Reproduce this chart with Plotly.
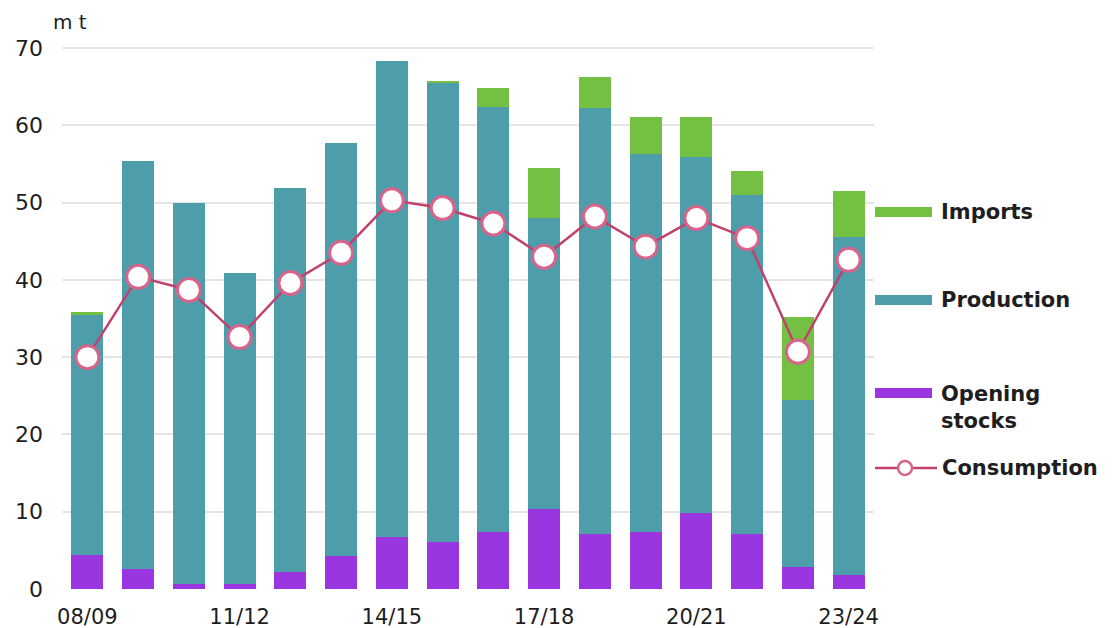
import plotly.graph_objects as go

# Marketing year labels
seasons = ["08/09", "09/10", "10/11", "11/12", "12/13", "13/14", "14/15", "15/16",
           "16/17", "17/18", "18/19", "19/20", "20/21", "21/22", "22/23", "23/24"]

# Supply components, million tonnes
opening_stocks = [4.4, 2.6, 0.6, 0.6, 2.2, 4.3, 6.7, 6.1, 7.4, 10.3, 7.1, 7.4, 9.8, 7.1, 2.9, 1.8]
production = [31.1, 52.8, 49.4, 40.3, 49.7, 53.4, 61.6, 59.5, 55.0, 37.7, 55.1, 48.9, 46.1, 43.9, 21.5, 43.7]
imports = [0.3, 0.0, 0.0, 0.0, 0.0, 0.0, 0.0, 0.2, 2.4, 6.5, 4.0, 4.8, 5.2, 3.1, 10.8, 6.0]

# Demand, million tonnes
consumption = [30.0, 40.4, 38.7, 32.6, 39.6, 43.5, 50.3, 49.3, 47.3, 43.0, 48.2, 44.3, 48.0, 45.4, 30.7, 42.6]

shown_ticks = ["08/09", "11/12", "14/15", "17/18", "20/21", "23/24"]
y_ticks = [0, 10, 20, 30, 40, 50, 60, 70]

C_STOCK = "#9a36e0"
C_PROD = "#4e9dab"
C_IMP = "#74c043"
C_LINE = "#c2406e"
C_MARK = "#d8648c"
FONT = "DejaVu Sans"
TXT = "#1e1e1e"

W, H = 1115, 628
ML, MR, MT, MB = 62, 241, 45, 39
PW, PH = W - ML - MR, H - MT - MB


def px(x):
    """page x pixel -> paper x"""
    return (x - ML) / PW


def py(y):
    """page y pixel -> paper y"""
    return (H - MB - y) / PH


fig = go.Figure()
fig.add_bar(x=seasons, y=opening_stocks, name="Opening stocks", marker_color=C_STOCK,
            marker_line_width=0)
fig.add_bar(x=seasons, y=production, name="Production", marker_color=C_PROD,
            marker_line_width=0)
fig.add_bar(x=seasons, y=imports, name="Imports", marker_color=C_IMP,
            marker_line_width=0)
fig.add_scatter(x=seasons, y=consumption, name="Consumption", mode="lines+markers",
                line=dict(color=C_LINE, width=2.5),
                marker=dict(size=23, color="white", line=dict(color=C_MARK, width=3)))

# Side legend drawn as swatches and labels
shapes = []
annotations = []
legend_font = dict(family=FONT, size=21, color=TXT, weight="bold")
for label, col, ypx in [("Imports", C_IMP, 212), ("Production", C_PROD, 300),
                        ("Opening stocks", C_STOCK, 393)]:
    shapes.append(dict(type="rect", xref="paper", yref="paper",
                       x0=px(875), x1=px(932), y0=py(ypx + 5), y1=py(ypx - 5),
                       fillcolor=col, line_width=0))
    two_line = label == "Opening stocks"
    text = label.replace(" ", "<br>") if two_line else label
    annotations.append(dict(xref="paper", yref="paper", x=px(939),
                            y=py(ypx - 13) if two_line else py(ypx),
                            yanchor="top" if two_line else "middle",
                            text=text, showarrow=False, xanchor="left", align="left",
                            font=legend_font))

shapes.append(dict(type="line", xref="paper", yref="paper",
                   x0=px(875), x1=px(937), y0=py(468), y1=py(468),
                   line=dict(color=C_LINE, width=2.5)))
shapes.append(dict(type="circle", xref="paper", yref="paper",
                   x0=px(898), x1=px(912), y0=py(475), y1=py(461),
                   fillcolor="white", line=dict(color=C_MARK, width=2.5)))
annotations.append(dict(xref="paper", yref="paper", x=px(940), y=py(468),
                        text="Consumption", showarrow=False, xanchor="left",
                        yanchor="middle", font=legend_font))

# Unit label
annotations.append(dict(xref="paper", yref="paper", x=px(51), y=py(22),
                        text="m t", showarrow=False, xanchor="left", yanchor="middle",
                        font=dict(family=FONT, size=20, color=TXT)))

fig.update_layout(
    width=W, height=H,
    margin=dict(l=ML, r=MR, t=MT, b=MB),
    paper_bgcolor="white", plot_bgcolor="white",
    barmode="stack", bargap=0.37,
    showlegend=False,
    shapes=shapes, annotations=annotations,
    font=dict(family=FONT, color=TXT),
)
fig.update_xaxes(type="category", range=[-0.5, len(seasons) - 0.5],
                 tickmode="array", tickvals=shown_ticks, ticktext=shown_ticks,
                 showgrid=False, showline=False, zeroline=False, ticks="", automargin=False,
                 tickfont=dict(family=FONT, size=21, color=TXT), ticklabelstandoff=13)
fig.update_yaxes(range=[0, 70.4], tickvals=y_ticks, showgrid=True, gridcolor="#e4e4e4",
                 gridwidth=1.5, zeroline=False, showline=False, ticks="", automargin=False,
                 tickfont=dict(family=FONT, size=22, color=TXT), ticklabelstandoff=18)

fig.write_html("out.html")
